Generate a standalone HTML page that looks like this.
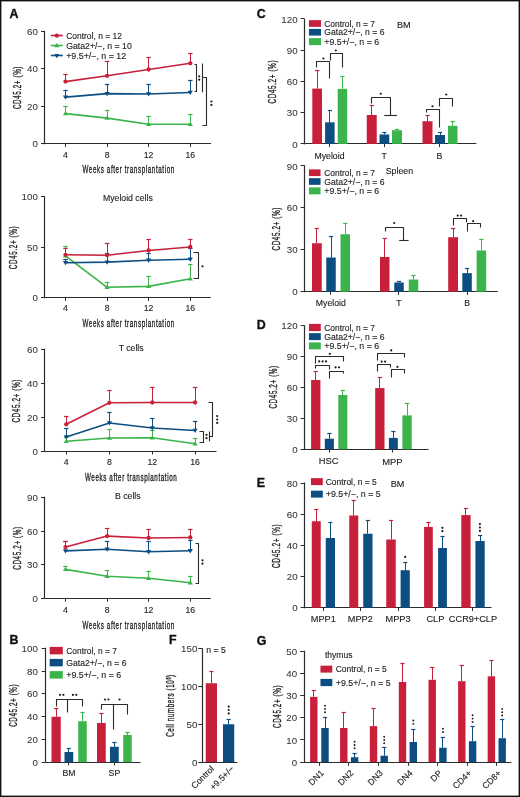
<!DOCTYPE html>
<html><head><meta charset="utf-8"><style>
html,body{margin:0;padding:0;background:#fff;}
body{width:520px;height:797px;overflow:hidden;}
svg{display:block;font-family:"Liberation Sans", sans-serif;will-change:transform;opacity:0.999;}
text{stroke:#222;stroke-width:0.12px;}
text.t{stroke-width:0.35px;letter-spacing:1.1px;}
text.n{stroke-width:0.05px;fill:#333;stroke:#333;}
</style></head><body>
<svg width="520" height="797" viewBox="0 0 520 797">
<rect width="520" height="797" fill="#fff"/>
<rect x="0.7" y="0.7" width="518.6" height="795.6" fill="none" stroke="#111" stroke-width="1.4"/>
<text x="9.40" y="17.90" font-size="12.4" font-weight="bold" fill="#111" style="stroke:#111;stroke-width:0.35px">A</text>
<line x1="44.5" y1="30.75" x2="44.5" y2="144.3" stroke="#2b2b2b" stroke-width="1.2"/>
<line x1="41.0" y1="143.5" x2="44.8" y2="143.5" stroke="#2b2b2b" stroke-width="1.0"/>
<text x="38.15" y="147.49" font-size="9.7" text-anchor="end" fill="#222" font-weight="normal" class="n" letter-spacing="0.15">0</text>
<line x1="41.0" y1="106.5" x2="44.8" y2="106.5" stroke="#2b2b2b" stroke-width="1.0"/>
<text x="38.15" y="109.99" font-size="9.7" text-anchor="end" fill="#222" font-weight="normal" class="n" letter-spacing="0.15">20</text>
<line x1="41.0" y1="68.5" x2="44.8" y2="68.5" stroke="#2b2b2b" stroke-width="1.0"/>
<text x="38.15" y="72.49" font-size="9.7" text-anchor="end" fill="#222" font-weight="normal" class="n" letter-spacing="0.15">40</text>
<line x1="41.0" y1="31.5" x2="44.8" y2="31.5" stroke="#2b2b2b" stroke-width="1.0"/>
<text x="38.15" y="34.99" font-size="9.7" text-anchor="end" fill="#222" font-weight="normal" class="n" letter-spacing="0.15">60</text>
<line x1="44.8" y1="143.5" x2="211" y2="143.5" stroke="#2b2b2b" stroke-width="1.2"/>
<line x1="65.5" y1="143.8" x2="65.5" y2="147.0" stroke="#2b2b2b" stroke-width="1.0"/>
<line x1="107.5" y1="143.8" x2="107.5" y2="147.0" stroke="#2b2b2b" stroke-width="1.0"/>
<line x1="148.5" y1="143.8" x2="148.5" y2="147.0" stroke="#2b2b2b" stroke-width="1.0"/>
<line x1="190.5" y1="143.8" x2="190.5" y2="147.0" stroke="#2b2b2b" stroke-width="1.0"/>
<text x="65.5" y="157.73" font-size="8.7" text-anchor="middle" fill="#222" font-weight="normal">4</text>
<text x="107.1" y="157.73" font-size="8.7" text-anchor="middle" fill="#222" font-weight="normal">8</text>
<text x="148.6" y="157.73" font-size="8.7" text-anchor="middle" fill="#222" font-weight="normal">12</text>
<text x="190.3" y="157.73" font-size="8.7" text-anchor="middle" fill="#222" font-weight="normal">16</text>
<text x="128.65" y="173.46" font-size="11" text-anchor="middle" fill="#222" font-weight="normal" class="t" textLength="92.4" lengthAdjust="spacingAndGlyphs">Weeks after transplantation</text>
<text class="t" transform="translate(16.85,87.5) rotate(-90)" x="0" y="4.18" font-size="11.6" text-anchor="middle" fill="#222" textLength="43.1" lengthAdjust="spacingAndGlyphs">CD45.2+ (%)</text>
<polyline points="65.5,113.6 107.1,118.1 148.6,124.2 190.3,124.2" fill="none" stroke="#3AB44B" stroke-width="1.6" stroke-linejoin="round"/>
<line x1="65.5" y1="106.6" x2="65.5" y2="113.6" stroke="#3AB44B" stroke-width="1.0"/>
<line x1="63.3" y1="106.5" x2="67.7" y2="106.5" stroke="#3AB44B" stroke-width="1.2"/>
<line x1="107.5" y1="110.4" x2="107.5" y2="118.1" stroke="#3AB44B" stroke-width="1.0"/>
<line x1="104.89999999999999" y1="110.5" x2="109.3" y2="110.5" stroke="#3AB44B" stroke-width="1.2"/>
<line x1="148.5" y1="116.5" x2="148.5" y2="124.2" stroke="#3AB44B" stroke-width="1.0"/>
<line x1="146.4" y1="116.5" x2="150.79999999999998" y2="116.5" stroke="#3AB44B" stroke-width="1.2"/>
<line x1="190.5" y1="114.5" x2="190.5" y2="124.2" stroke="#3AB44B" stroke-width="1.0"/>
<line x1="188.10000000000002" y1="114.5" x2="192.5" y2="114.5" stroke="#3AB44B" stroke-width="1.2"/>
<path d="M62.9,115.3 L68.1,115.3 L65.5,111.0 Z" fill="#3AB44B"/>
<path d="M104.5,119.8 L109.69999999999999,119.8 L107.1,115.5 Z" fill="#3AB44B"/>
<path d="M146.0,125.9 L151.2,125.9 L148.6,121.60000000000001 Z" fill="#3AB44B"/>
<path d="M187.70000000000002,125.9 L192.9,125.9 L190.3,121.60000000000001 Z" fill="#3AB44B"/>
<polyline points="65.5,97.1 107.1,93.6 148.6,94.0 190.3,92.5" fill="none" stroke="#0D4E82" stroke-width="1.6" stroke-linejoin="round"/>
<line x1="65.5" y1="90.7" x2="65.5" y2="97.1" stroke="#0D4E82" stroke-width="1.0"/>
<line x1="63.3" y1="90.5" x2="67.7" y2="90.5" stroke="#0D4E82" stroke-width="1.2"/>
<line x1="107.5" y1="84.1" x2="107.5" y2="93.6" stroke="#0D4E82" stroke-width="1.0"/>
<line x1="104.89999999999999" y1="84.5" x2="109.3" y2="84.5" stroke="#0D4E82" stroke-width="1.2"/>
<line x1="148.5" y1="84.0" x2="148.5" y2="94.0" stroke="#0D4E82" stroke-width="1.0"/>
<line x1="146.4" y1="84.5" x2="150.79999999999998" y2="84.5" stroke="#0D4E82" stroke-width="1.2"/>
<line x1="190.5" y1="80.8" x2="190.5" y2="92.5" stroke="#0D4E82" stroke-width="1.0"/>
<line x1="188.10000000000002" y1="80.5" x2="192.5" y2="80.5" stroke="#0D4E82" stroke-width="1.2"/>
<path d="M62.9,95.39999999999999 L68.1,95.39999999999999 L65.5,99.69999999999999 Z" fill="#0D4E82"/>
<path d="M104.5,91.89999999999999 L109.69999999999999,91.89999999999999 L107.1,96.19999999999999 Z" fill="#0D4E82"/>
<path d="M146.0,92.3 L151.2,92.3 L148.6,96.6 Z" fill="#0D4E82"/>
<path d="M187.70000000000002,90.8 L192.9,90.8 L190.3,95.1 Z" fill="#0D4E82"/>
<polyline points="65.5,81.6 107.1,75.8 148.6,69.5 190.3,63.3" fill="none" stroke="#C8203A" stroke-width="1.6" stroke-linejoin="round"/>
<line x1="65.5" y1="74.7" x2="65.5" y2="81.6" stroke="#C8203A" stroke-width="1.0"/>
<line x1="63.3" y1="74.5" x2="67.7" y2="74.5" stroke="#C8203A" stroke-width="1.2"/>
<line x1="107.5" y1="61.8" x2="107.5" y2="75.8" stroke="#C8203A" stroke-width="1.0"/>
<line x1="104.89999999999999" y1="61.5" x2="109.3" y2="61.5" stroke="#C8203A" stroke-width="1.2"/>
<line x1="148.5" y1="57.5" x2="148.5" y2="69.5" stroke="#C8203A" stroke-width="1.0"/>
<line x1="146.4" y1="57.5" x2="150.79999999999998" y2="57.5" stroke="#C8203A" stroke-width="1.2"/>
<line x1="190.5" y1="53.8" x2="190.5" y2="63.3" stroke="#C8203A" stroke-width="1.0"/>
<line x1="188.10000000000002" y1="53.5" x2="192.5" y2="53.5" stroke="#C8203A" stroke-width="1.2"/>
<circle cx="65.5" cy="81.6" r="2.15" fill="#C8203A"/>
<circle cx="107.1" cy="75.8" r="2.15" fill="#C8203A"/>
<circle cx="148.6" cy="69.5" r="2.15" fill="#C8203A"/>
<circle cx="190.3" cy="63.3" r="2.15" fill="#C8203A"/>
<line x1="50.8" y1="35.5" x2="62.8" y2="35.5" stroke="#C8203A" stroke-width="1.6"/>
<circle cx="56.8" cy="35.7" r="2.15" fill="#C8203A"/>
<text x="66.2" y="38.76" font-size="8.5" text-anchor="start" fill="#222" font-weight="normal" textLength="55.7" lengthAdjust="spacingAndGlyphs">Control, n = 12</text>
<line x1="50.8" y1="45.5" x2="62.8" y2="45.5" stroke="#3AB44B" stroke-width="1.6"/>
<path d="M54.199999999999996,47.2 L59.4,47.2 L56.8,42.9 Z" fill="#3AB44B"/>
<text x="66.2" y="48.56" font-size="8.5" text-anchor="start" fill="#222" font-weight="normal" textLength="65.6" lengthAdjust="spacingAndGlyphs">Gata2+/−, n = 10</text>
<line x1="50.8" y1="55.5" x2="62.8" y2="55.5" stroke="#0D4E82" stroke-width="1.6"/>
<path d="M54.199999999999996,53.9 L59.4,53.9 L56.8,58.2 Z" fill="#0D4E82"/>
<text x="66.2" y="58.66" font-size="8.5" text-anchor="start" fill="#222" font-weight="normal" textLength="60.0" lengthAdjust="spacingAndGlyphs">+9.5+/−, n = 12</text>
<path d="M194.5,64.5 H196.5 V91.5 H194.5" stroke="#2b2b2b" stroke-width="1.1" fill="none" stroke-linejoin="round"/>
<circle cx="199.2" cy="76.30" r="1.1" fill="#1a1a1a"/>
<circle cx="199.2" cy="79.70" r="1.1" fill="#1a1a1a"/>
<line x1="202.5" y1="63.5" x2="202.5" y2="92.3" stroke="#2b2b2b" stroke-width="1.1"/>
<path d="M202.5,77.5 H206.5 V125.5 H202.5" stroke="#2b2b2b" stroke-width="1.1" fill="none" stroke-linejoin="round"/>
<circle cx="211.4" cy="101.50" r="1.1" fill="#1a1a1a"/>
<circle cx="211.4" cy="104.90" r="1.1" fill="#1a1a1a"/>
<line x1="44.5" y1="196.25" x2="44.5" y2="298.25" stroke="#2b2b2b" stroke-width="1.2"/>
<line x1="41.0" y1="297.5" x2="44.8" y2="297.5" stroke="#2b2b2b" stroke-width="1.0"/>
<text x="38.15" y="301.44" font-size="9.7" text-anchor="end" fill="#222" font-weight="normal" class="n" letter-spacing="0.15">0</text>
<line x1="41.0" y1="247.5" x2="44.8" y2="247.5" stroke="#2b2b2b" stroke-width="1.0"/>
<text x="38.15" y="250.94" font-size="9.7" text-anchor="end" fill="#222" font-weight="normal" class="n" letter-spacing="0.15">50</text>
<line x1="41.0" y1="196.5" x2="44.8" y2="196.5" stroke="#2b2b2b" stroke-width="1.0"/>
<text x="38.15" y="200.44" font-size="9.7" text-anchor="end" fill="#222" font-weight="normal" class="n" letter-spacing="0.15">100</text>
<line x1="44.8" y1="297.5" x2="210.8" y2="297.5" stroke="#2b2b2b" stroke-width="1.2"/>
<line x1="65.5" y1="297.75" x2="65.5" y2="300.95" stroke="#2b2b2b" stroke-width="1.0"/>
<line x1="107.5" y1="297.75" x2="107.5" y2="300.95" stroke="#2b2b2b" stroke-width="1.0"/>
<line x1="148.5" y1="297.75" x2="148.5" y2="300.95" stroke="#2b2b2b" stroke-width="1.0"/>
<line x1="190.5" y1="297.75" x2="190.5" y2="300.95" stroke="#2b2b2b" stroke-width="1.0"/>
<text x="65.5" y="311.33" font-size="8.7" text-anchor="middle" fill="#222" font-weight="normal">4</text>
<text x="107.1" y="311.33" font-size="8.7" text-anchor="middle" fill="#222" font-weight="normal">8</text>
<text x="148.6" y="311.33" font-size="8.7" text-anchor="middle" fill="#222" font-weight="normal">12</text>
<text x="190.3" y="311.33" font-size="8.7" text-anchor="middle" fill="#222" font-weight="normal">16</text>
<text x="128.65" y="326.66" font-size="11" text-anchor="middle" fill="#222" font-weight="normal" class="t" textLength="92.4" lengthAdjust="spacingAndGlyphs">Weeks after transplantation</text>
<text class="t" transform="translate(13.20,247.5) rotate(-90)" x="0" y="4.18" font-size="11.6" text-anchor="middle" fill="#222" textLength="43.4" lengthAdjust="spacingAndGlyphs">CD45.2+ (%)</text>
<text x="103" y="200.63" font-size="8.7" text-anchor="start" fill="#222" font-weight="normal">Myeloid cells</text>
<polyline points="65.5,255.8 107.1,287.3 148.6,286.4 190.3,278.8" fill="none" stroke="#3AB44B" stroke-width="1.6" stroke-linejoin="round"/>
<line x1="65.5" y1="246.3" x2="65.5" y2="255.8" stroke="#3AB44B" stroke-width="1.0"/>
<line x1="63.3" y1="246.5" x2="67.7" y2="246.5" stroke="#3AB44B" stroke-width="1.2"/>
<line x1="107.5" y1="282.3" x2="107.5" y2="287.3" stroke="#3AB44B" stroke-width="1.0"/>
<line x1="104.89999999999999" y1="282.5" x2="109.3" y2="282.5" stroke="#3AB44B" stroke-width="1.2"/>
<line x1="148.5" y1="276.5" x2="148.5" y2="286.4" stroke="#3AB44B" stroke-width="1.0"/>
<line x1="146.4" y1="276.5" x2="150.79999999999998" y2="276.5" stroke="#3AB44B" stroke-width="1.2"/>
<line x1="190.5" y1="264.5" x2="190.5" y2="278.8" stroke="#3AB44B" stroke-width="1.0"/>
<line x1="188.10000000000002" y1="264.5" x2="192.5" y2="264.5" stroke="#3AB44B" stroke-width="1.2"/>
<path d="M62.9,257.5 L68.1,257.5 L65.5,253.20000000000002 Z" fill="#3AB44B"/>
<path d="M104.5,289.0 L109.69999999999999,289.0 L107.1,284.7 Z" fill="#3AB44B"/>
<path d="M146.0,288.09999999999997 L151.2,288.09999999999997 L148.6,283.79999999999995 Z" fill="#3AB44B"/>
<path d="M187.70000000000002,280.5 L192.9,280.5 L190.3,276.2 Z" fill="#3AB44B"/>
<polyline points="65.5,262.7 107.1,262.1 148.6,260.3 190.3,259.3" fill="none" stroke="#0D4E82" stroke-width="1.6" stroke-linejoin="round"/>
<line x1="65.5" y1="259.2" x2="65.5" y2="262.7" stroke="#0D4E82" stroke-width="1.0"/>
<line x1="63.3" y1="259.5" x2="67.7" y2="259.5" stroke="#0D4E82" stroke-width="1.2"/>
<line x1="107.5" y1="253.5" x2="107.5" y2="262.1" stroke="#0D4E82" stroke-width="1.0"/>
<line x1="104.89999999999999" y1="253.5" x2="109.3" y2="253.5" stroke="#0D4E82" stroke-width="1.2"/>
<line x1="148.5" y1="253.0" x2="148.5" y2="260.3" stroke="#0D4E82" stroke-width="1.0"/>
<line x1="146.4" y1="253.5" x2="150.79999999999998" y2="253.5" stroke="#0D4E82" stroke-width="1.2"/>
<line x1="190.5" y1="248.8" x2="190.5" y2="259.3" stroke="#0D4E82" stroke-width="1.0"/>
<line x1="188.10000000000002" y1="248.5" x2="192.5" y2="248.5" stroke="#0D4E82" stroke-width="1.2"/>
<path d="M62.9,261.0 L68.1,261.0 L65.5,265.3 Z" fill="#0D4E82"/>
<path d="M104.5,260.40000000000003 L109.69999999999999,260.40000000000003 L107.1,264.70000000000005 Z" fill="#0D4E82"/>
<path d="M146.0,258.6 L151.2,258.6 L148.6,262.90000000000003 Z" fill="#0D4E82"/>
<path d="M187.70000000000002,257.6 L192.9,257.6 L190.3,261.90000000000003 Z" fill="#0D4E82"/>
<polyline points="65.5,254.8 107.1,255.2 148.6,250.5 190.3,247.0" fill="none" stroke="#C8203A" stroke-width="1.6" stroke-linejoin="round"/>
<line x1="65.5" y1="248.3" x2="65.5" y2="254.8" stroke="#C8203A" stroke-width="1.0"/>
<line x1="63.3" y1="248.5" x2="67.7" y2="248.5" stroke="#C8203A" stroke-width="1.2"/>
<line x1="107.5" y1="243.3" x2="107.5" y2="255.2" stroke="#C8203A" stroke-width="1.0"/>
<line x1="104.89999999999999" y1="243.5" x2="109.3" y2="243.5" stroke="#C8203A" stroke-width="1.2"/>
<line x1="148.5" y1="239.5" x2="148.5" y2="250.5" stroke="#C8203A" stroke-width="1.0"/>
<line x1="146.4" y1="239.5" x2="150.79999999999998" y2="239.5" stroke="#C8203A" stroke-width="1.2"/>
<line x1="190.5" y1="239.5" x2="190.5" y2="247.0" stroke="#C8203A" stroke-width="1.0"/>
<line x1="188.10000000000002" y1="239.5" x2="192.5" y2="239.5" stroke="#C8203A" stroke-width="1.2"/>
<circle cx="65.5" cy="254.8" r="2.15" fill="#C8203A"/>
<circle cx="107.1" cy="255.2" r="2.15" fill="#C8203A"/>
<circle cx="148.6" cy="250.5" r="2.15" fill="#C8203A"/>
<circle cx="190.3" cy="247.0" r="2.15" fill="#C8203A"/>
<path d="M193.5,252.5 H198.5 V278.5 H193.5" stroke="#2b2b2b" stroke-width="1.1" fill="none" stroke-linejoin="round"/>
<circle cx="202.5" cy="266.30" r="1.1" fill="#1a1a1a"/>
<line x1="44.5" y1="348.75" x2="44.5" y2="451.75" stroke="#2b2b2b" stroke-width="1.2"/>
<line x1="41.0" y1="451.5" x2="44.8" y2="451.5" stroke="#2b2b2b" stroke-width="1.0"/>
<text x="38.15" y="454.94" font-size="9.7" text-anchor="end" fill="#222" font-weight="normal" class="n" letter-spacing="0.15">0</text>
<line x1="41.0" y1="417.5" x2="44.8" y2="417.5" stroke="#2b2b2b" stroke-width="1.0"/>
<text x="38.15" y="420.94" font-size="9.7" text-anchor="end" fill="#222" font-weight="normal" class="n" letter-spacing="0.15">20</text>
<line x1="41.0" y1="383.5" x2="44.8" y2="383.5" stroke="#2b2b2b" stroke-width="1.0"/>
<text x="38.15" y="386.94" font-size="9.7" text-anchor="end" fill="#222" font-weight="normal" class="n" letter-spacing="0.15">40</text>
<line x1="41.0" y1="349.5" x2="44.8" y2="349.5" stroke="#2b2b2b" stroke-width="1.0"/>
<text x="38.15" y="352.94" font-size="9.7" text-anchor="end" fill="#222" font-weight="normal" class="n" letter-spacing="0.15">60</text>
<line x1="44.8" y1="451.5" x2="216.5" y2="451.5" stroke="#2b2b2b" stroke-width="1.2"/>
<line x1="66.5" y1="451.25" x2="66.5" y2="454.45" stroke="#2b2b2b" stroke-width="1.0"/>
<line x1="109.5" y1="451.25" x2="109.5" y2="454.45" stroke="#2b2b2b" stroke-width="1.0"/>
<line x1="152.5" y1="451.25" x2="152.5" y2="454.45" stroke="#2b2b2b" stroke-width="1.0"/>
<line x1="195.5" y1="451.25" x2="195.5" y2="454.45" stroke="#2b2b2b" stroke-width="1.0"/>
<text x="66.25" y="465.33" font-size="8.7" text-anchor="middle" fill="#222" font-weight="normal">4</text>
<text x="109.4" y="465.33" font-size="8.7" text-anchor="middle" fill="#222" font-weight="normal">8</text>
<text x="152.3" y="465.33" font-size="8.7" text-anchor="middle" fill="#222" font-weight="normal">12</text>
<text x="195.1" y="465.33" font-size="8.7" text-anchor="middle" fill="#222" font-weight="normal">16</text>
<text x="131.15" y="480.66" font-size="11" text-anchor="middle" fill="#222" font-weight="normal" class="t" textLength="92.4" lengthAdjust="spacingAndGlyphs">Weeks after transplantation</text>
<text class="t" transform="translate(15.80,400.8) rotate(-90)" x="0" y="4.18" font-size="11.6" text-anchor="middle" fill="#222" textLength="43.6" lengthAdjust="spacingAndGlyphs">CD45.2+ (%)</text>
<text x="118.7" y="351.13" font-size="8.7" text-anchor="start" fill="#222" font-weight="normal">T cells</text>
<polyline points="66.25,441.3 109.4,438.0 152.3,437.8 195.1,443.8" fill="none" stroke="#3AB44B" stroke-width="1.6" stroke-linejoin="round"/>
<line x1="66.5" y1="437.0" x2="66.5" y2="441.3" stroke="#3AB44B" stroke-width="1.0"/>
<line x1="64.05" y1="437.5" x2="68.45" y2="437.5" stroke="#3AB44B" stroke-width="1.2"/>
<line x1="109.5" y1="429.5" x2="109.5" y2="438.0" stroke="#3AB44B" stroke-width="1.0"/>
<line x1="107.2" y1="429.5" x2="111.60000000000001" y2="429.5" stroke="#3AB44B" stroke-width="1.2"/>
<line x1="152.5" y1="430.0" x2="152.5" y2="437.8" stroke="#3AB44B" stroke-width="1.0"/>
<line x1="150.10000000000002" y1="430.5" x2="154.5" y2="430.5" stroke="#3AB44B" stroke-width="1.2"/>
<line x1="195.5" y1="438.5" x2="195.5" y2="443.8" stroke="#3AB44B" stroke-width="1.0"/>
<line x1="192.9" y1="438.5" x2="197.29999999999998" y2="438.5" stroke="#3AB44B" stroke-width="1.2"/>
<path d="M63.65,443.0 L68.85,443.0 L66.25,438.7 Z" fill="#3AB44B"/>
<path d="M106.80000000000001,439.7 L112.0,439.7 L109.4,435.4 Z" fill="#3AB44B"/>
<path d="M149.70000000000002,439.5 L154.9,439.5 L152.3,435.2 Z" fill="#3AB44B"/>
<path d="M192.5,445.5 L197.7,445.5 L195.1,441.2 Z" fill="#3AB44B"/>
<polyline points="66.25,437.0 109.4,423.0 152.3,428.0 195.1,430.5" fill="none" stroke="#0D4E82" stroke-width="1.6" stroke-linejoin="round"/>
<line x1="66.5" y1="428.8" x2="66.5" y2="437.0" stroke="#0D4E82" stroke-width="1.0"/>
<line x1="64.05" y1="428.5" x2="68.45" y2="428.5" stroke="#0D4E82" stroke-width="1.2"/>
<line x1="109.5" y1="412.8" x2="109.5" y2="423.0" stroke="#0D4E82" stroke-width="1.0"/>
<line x1="107.2" y1="412.5" x2="111.60000000000001" y2="412.5" stroke="#0D4E82" stroke-width="1.2"/>
<line x1="152.5" y1="418.5" x2="152.5" y2="428.0" stroke="#0D4E82" stroke-width="1.0"/>
<line x1="150.10000000000002" y1="418.5" x2="154.5" y2="418.5" stroke="#0D4E82" stroke-width="1.2"/>
<line x1="195.5" y1="421.5" x2="195.5" y2="430.5" stroke="#0D4E82" stroke-width="1.0"/>
<line x1="192.9" y1="421.5" x2="197.29999999999998" y2="421.5" stroke="#0D4E82" stroke-width="1.2"/>
<path d="M63.65,435.3 L68.85,435.3 L66.25,439.6 Z" fill="#0D4E82"/>
<path d="M106.80000000000001,421.3 L112.0,421.3 L109.4,425.6 Z" fill="#0D4E82"/>
<path d="M149.70000000000002,426.3 L154.9,426.3 L152.3,430.6 Z" fill="#0D4E82"/>
<path d="M192.5,428.8 L197.7,428.8 L195.1,433.1 Z" fill="#0D4E82"/>
<polyline points="66.25,424.3 109.4,402.8 152.3,402.5 195.1,402.5" fill="none" stroke="#C8203A" stroke-width="1.6" stroke-linejoin="round"/>
<line x1="66.5" y1="416.9" x2="66.5" y2="424.3" stroke="#C8203A" stroke-width="1.0"/>
<line x1="64.05" y1="416.5" x2="68.45" y2="416.5" stroke="#C8203A" stroke-width="1.2"/>
<line x1="109.5" y1="390.8" x2="109.5" y2="402.8" stroke="#C8203A" stroke-width="1.0"/>
<line x1="107.2" y1="390.5" x2="111.60000000000001" y2="390.5" stroke="#C8203A" stroke-width="1.2"/>
<line x1="152.5" y1="387.8" x2="152.5" y2="402.5" stroke="#C8203A" stroke-width="1.0"/>
<line x1="150.10000000000002" y1="387.5" x2="154.5" y2="387.5" stroke="#C8203A" stroke-width="1.2"/>
<line x1="195.5" y1="387.0" x2="195.5" y2="402.5" stroke="#C8203A" stroke-width="1.0"/>
<line x1="192.9" y1="387.5" x2="197.29999999999998" y2="387.5" stroke="#C8203A" stroke-width="1.2"/>
<circle cx="66.25" cy="424.3" r="2.15" fill="#C8203A"/>
<circle cx="109.4" cy="402.8" r="2.15" fill="#C8203A"/>
<circle cx="152.3" cy="402.5" r="2.15" fill="#C8203A"/>
<circle cx="195.1" cy="402.5" r="2.15" fill="#C8203A"/>
<path d="M208.5,402.5 H212.5 V436.5 H209.5" stroke="#2b2b2b" stroke-width="1.1" fill="none" stroke-linejoin="round"/>
<path d="M199.5,431.5 H203.5 V442.5 H199.5" stroke="#2b2b2b" stroke-width="1.1" fill="none" stroke-linejoin="round"/>
<line x1="209.5" y1="431.5" x2="209.5" y2="441.2" stroke="#2b2b2b" stroke-width="1.1"/>
<circle cx="206.5" cy="434.80" r="1.1" fill="#1a1a1a"/>
<circle cx="206.5" cy="438.20" r="1.1" fill="#1a1a1a"/>
<circle cx="217.2" cy="416.10" r="1.1" fill="#1a1a1a"/>
<circle cx="217.2" cy="419.50" r="1.1" fill="#1a1a1a"/>
<circle cx="217.2" cy="422.90" r="1.1" fill="#1a1a1a"/>
<line x1="44.5" y1="496.75" x2="44.5" y2="599.0" stroke="#2b2b2b" stroke-width="1.2"/>
<line x1="41.0" y1="598.5" x2="44.8" y2="598.5" stroke="#2b2b2b" stroke-width="1.0"/>
<text x="38.15" y="602.19" font-size="9.7" text-anchor="end" fill="#222" font-weight="normal" class="n" letter-spacing="0.15">0</text>
<line x1="41.0" y1="564.5" x2="44.8" y2="564.5" stroke="#2b2b2b" stroke-width="1.0"/>
<text x="38.15" y="568.44" font-size="9.7" text-anchor="end" fill="#222" font-weight="normal" class="n" letter-spacing="0.15">30</text>
<line x1="41.0" y1="531.5" x2="44.8" y2="531.5" stroke="#2b2b2b" stroke-width="1.0"/>
<text x="38.15" y="534.69" font-size="9.7" text-anchor="end" fill="#222" font-weight="normal" class="n" letter-spacing="0.15">60</text>
<line x1="41.0" y1="497.5" x2="44.8" y2="497.5" stroke="#2b2b2b" stroke-width="1.0"/>
<text x="38.15" y="500.94" font-size="9.7" text-anchor="end" fill="#222" font-weight="normal" class="n" letter-spacing="0.15">90</text>
<line x1="44.8" y1="598.5" x2="210.8" y2="598.5" stroke="#2b2b2b" stroke-width="1.2"/>
<line x1="65.5" y1="598.5" x2="65.5" y2="601.7" stroke="#2b2b2b" stroke-width="1.0"/>
<line x1="107.5" y1="598.5" x2="107.5" y2="601.7" stroke="#2b2b2b" stroke-width="1.0"/>
<line x1="148.5" y1="598.5" x2="148.5" y2="601.7" stroke="#2b2b2b" stroke-width="1.0"/>
<line x1="190.5" y1="598.5" x2="190.5" y2="601.7" stroke="#2b2b2b" stroke-width="1.0"/>
<text x="65.5" y="612.73" font-size="8.7" text-anchor="middle" fill="#222" font-weight="normal">4</text>
<text x="107.1" y="612.73" font-size="8.7" text-anchor="middle" fill="#222" font-weight="normal">8</text>
<text x="148.6" y="612.73" font-size="8.7" text-anchor="middle" fill="#222" font-weight="normal">12</text>
<text x="190.3" y="612.73" font-size="8.7" text-anchor="middle" fill="#222" font-weight="normal">16</text>
<text x="128.65" y="629.16" font-size="11" text-anchor="middle" fill="#222" font-weight="normal" class="t" textLength="92.4" lengthAdjust="spacingAndGlyphs">Weeks after transplantation</text>
<text class="t" transform="translate(16.90,548) rotate(-90)" x="0" y="4.18" font-size="11.6" text-anchor="middle" fill="#222" textLength="43.6" lengthAdjust="spacingAndGlyphs">CD45.2+ (%)</text>
<text x="115" y="498.93" font-size="8.7" text-anchor="start" fill="#222" font-weight="normal">B cells</text>
<polyline points="65.5,569.4 107.1,576.3 148.6,578.3 190.3,582.7" fill="none" stroke="#3AB44B" stroke-width="1.6" stroke-linejoin="round"/>
<line x1="65.5" y1="566.5" x2="65.5" y2="569.4" stroke="#3AB44B" stroke-width="1.0"/>
<line x1="63.3" y1="566.5" x2="67.7" y2="566.5" stroke="#3AB44B" stroke-width="1.2"/>
<line x1="107.5" y1="570.2" x2="107.5" y2="576.3" stroke="#3AB44B" stroke-width="1.0"/>
<line x1="104.89999999999999" y1="570.5" x2="109.3" y2="570.5" stroke="#3AB44B" stroke-width="1.2"/>
<line x1="148.5" y1="571.9" x2="148.5" y2="578.3" stroke="#3AB44B" stroke-width="1.0"/>
<line x1="146.4" y1="571.5" x2="150.79999999999998" y2="571.5" stroke="#3AB44B" stroke-width="1.2"/>
<line x1="190.5" y1="576.0" x2="190.5" y2="582.7" stroke="#3AB44B" stroke-width="1.0"/>
<line x1="188.10000000000002" y1="576.5" x2="192.5" y2="576.5" stroke="#3AB44B" stroke-width="1.2"/>
<path d="M62.9,571.1 L68.1,571.1 L65.5,566.8 Z" fill="#3AB44B"/>
<path d="M104.5,578.0 L109.69999999999999,578.0 L107.1,573.6999999999999 Z" fill="#3AB44B"/>
<path d="M146.0,580.0 L151.2,580.0 L148.6,575.6999999999999 Z" fill="#3AB44B"/>
<path d="M187.70000000000002,584.4000000000001 L192.9,584.4000000000001 L190.3,580.1 Z" fill="#3AB44B"/>
<polyline points="65.5,550.9 107.1,549.2 148.6,551.8 190.3,550.8" fill="none" stroke="#0D4E82" stroke-width="1.6" stroke-linejoin="round"/>
<line x1="65.5" y1="541.9" x2="65.5" y2="550.9" stroke="#0D4E82" stroke-width="1.0"/>
<line x1="63.3" y1="541.5" x2="67.7" y2="541.5" stroke="#0D4E82" stroke-width="1.2"/>
<line x1="107.5" y1="541.6" x2="107.5" y2="549.2" stroke="#0D4E82" stroke-width="1.0"/>
<line x1="104.89999999999999" y1="541.5" x2="109.3" y2="541.5" stroke="#0D4E82" stroke-width="1.2"/>
<line x1="148.5" y1="541.3" x2="148.5" y2="551.8" stroke="#0D4E82" stroke-width="1.0"/>
<line x1="146.4" y1="541.5" x2="150.79999999999998" y2="541.5" stroke="#0D4E82" stroke-width="1.2"/>
<line x1="190.5" y1="540.0" x2="190.5" y2="550.8" stroke="#0D4E82" stroke-width="1.0"/>
<line x1="188.10000000000002" y1="540.5" x2="192.5" y2="540.5" stroke="#0D4E82" stroke-width="1.2"/>
<path d="M62.9,549.1999999999999 L68.1,549.1999999999999 L65.5,553.5 Z" fill="#0D4E82"/>
<path d="M104.5,547.5 L109.69999999999999,547.5 L107.1,551.8000000000001 Z" fill="#0D4E82"/>
<path d="M146.0,550.0999999999999 L151.2,550.0999999999999 L148.6,554.4 Z" fill="#0D4E82"/>
<path d="M187.70000000000002,549.0999999999999 L192.9,549.0999999999999 L190.3,553.4 Z" fill="#0D4E82"/>
<polyline points="65.5,547.1 107.1,536.1 148.6,538.0 190.3,537.5" fill="none" stroke="#C8203A" stroke-width="1.6" stroke-linejoin="round"/>
<line x1="65.5" y1="541.7" x2="65.5" y2="547.1" stroke="#C8203A" stroke-width="1.0"/>
<line x1="63.3" y1="541.5" x2="67.7" y2="541.5" stroke="#C8203A" stroke-width="1.2"/>
<line x1="107.5" y1="528.7" x2="107.5" y2="536.1" stroke="#C8203A" stroke-width="1.0"/>
<line x1="104.89999999999999" y1="528.5" x2="109.3" y2="528.5" stroke="#C8203A" stroke-width="1.2"/>
<line x1="148.5" y1="529.5" x2="148.5" y2="538.0" stroke="#C8203A" stroke-width="1.0"/>
<line x1="146.4" y1="529.5" x2="150.79999999999998" y2="529.5" stroke="#C8203A" stroke-width="1.2"/>
<line x1="190.5" y1="529.3" x2="190.5" y2="537.5" stroke="#C8203A" stroke-width="1.0"/>
<line x1="188.10000000000002" y1="529.5" x2="192.5" y2="529.5" stroke="#C8203A" stroke-width="1.2"/>
<circle cx="65.5" cy="547.1" r="2.15" fill="#C8203A"/>
<circle cx="107.1" cy="536.1" r="2.15" fill="#C8203A"/>
<circle cx="148.6" cy="538.0" r="2.15" fill="#C8203A"/>
<circle cx="190.3" cy="537.5" r="2.15" fill="#C8203A"/>
<path d="M195.5,543.5 H198.5 V583.5 H195.5" stroke="#2b2b2b" stroke-width="1.1" fill="none" stroke-linejoin="round"/>
<circle cx="202.5" cy="560.30" r="1.1" fill="#1a1a1a"/>
<circle cx="202.5" cy="563.70" r="1.1" fill="#1a1a1a"/>
<text x="9.60" y="643.90" font-size="12.4" font-weight="bold" fill="#111" style="stroke:#111;stroke-width:0.35px">B</text>
<line x1="45.5" y1="647.75" x2="45.5" y2="762.7" stroke="#2b2b2b" stroke-width="1.2"/>
<line x1="41.7" y1="762.5" x2="45.5" y2="762.5" stroke="#2b2b2b" stroke-width="1.0"/>
<text x="38.15" y="765.89" font-size="9.7" text-anchor="end" fill="#222" font-weight="normal" class="n" letter-spacing="0.15">0</text>
<line x1="41.7" y1="739.5" x2="45.5" y2="739.5" stroke="#2b2b2b" stroke-width="1.0"/>
<text x="38.15" y="743.09" font-size="9.7" text-anchor="end" fill="#222" font-weight="normal" class="n" letter-spacing="0.15">20</text>
<line x1="41.7" y1="716.5" x2="45.5" y2="716.5" stroke="#2b2b2b" stroke-width="1.0"/>
<text x="38.15" y="720.29" font-size="9.7" text-anchor="end" fill="#222" font-weight="normal" class="n" letter-spacing="0.15">40</text>
<line x1="41.7" y1="693.5" x2="45.5" y2="693.5" stroke="#2b2b2b" stroke-width="1.0"/>
<text x="38.15" y="697.49" font-size="9.7" text-anchor="end" fill="#222" font-weight="normal" class="n" letter-spacing="0.15">60</text>
<line x1="41.7" y1="671.5" x2="45.5" y2="671.5" stroke="#2b2b2b" stroke-width="1.0"/>
<text x="38.15" y="674.69" font-size="9.7" text-anchor="end" fill="#222" font-weight="normal" class="n" letter-spacing="0.15">80</text>
<line x1="41.7" y1="648.5" x2="45.5" y2="648.5" stroke="#2b2b2b" stroke-width="1.0"/>
<text x="38.15" y="651.89" font-size="9.7" text-anchor="end" fill="#222" font-weight="normal" class="n" letter-spacing="0.15">100</text>
<line x1="45.5" y1="762.5" x2="140.5" y2="762.5" stroke="#2b2b2b" stroke-width="1.2"/>
<line x1="68.5" y1="762.2" x2="68.5" y2="765.4000000000001" stroke="#2b2b2b" stroke-width="1.0"/>
<line x1="114.5" y1="762.2" x2="114.5" y2="765.4000000000001" stroke="#2b2b2b" stroke-width="1.0"/>
<rect x="51.5" y="716.75" width="9.25" height="45.45" fill="#C8203A"/>
<line x1="56.5" y1="708.75" x2="56.5" y2="716.75" stroke="#C8203A" stroke-width="1.0"/>
<line x1="54.025" y1="708.5" x2="58.225" y2="708.5" stroke="#C8203A" stroke-width="1.2"/>
<rect x="64.5" y="752.0" width="8.75" height="10.20" fill="#0D4E82"/>
<line x1="68.5" y1="748.25" x2="68.5" y2="752.0" stroke="#0D4E82" stroke-width="1.0"/>
<line x1="66.775" y1="748.5" x2="70.975" y2="748.5" stroke="#0D4E82" stroke-width="1.2"/>
<rect x="78.25" y="721.25" width="8.50" height="40.95" fill="#3AB44B"/>
<line x1="82.5" y1="712.5" x2="82.5" y2="721.25" stroke="#3AB44B" stroke-width="1.0"/>
<line x1="80.4" y1="712.5" x2="84.6" y2="712.5" stroke="#3AB44B" stroke-width="1.2"/>
<rect x="97.0" y="723.0" width="8.75" height="39.20" fill="#C8203A"/>
<line x1="101.5" y1="713.75" x2="101.5" y2="723.0" stroke="#C8203A" stroke-width="1.0"/>
<line x1="99.275" y1="713.5" x2="103.475" y2="713.5" stroke="#C8203A" stroke-width="1.2"/>
<rect x="110.0" y="746.75" width="8.75" height="15.45" fill="#0D4E82"/>
<line x1="114.5" y1="742.5" x2="114.5" y2="746.75" stroke="#0D4E82" stroke-width="1.0"/>
<line x1="112.275" y1="742.5" x2="116.475" y2="742.5" stroke="#0D4E82" stroke-width="1.2"/>
<rect x="123.25" y="735.0" width="8.50" height="27.20" fill="#3AB44B"/>
<line x1="127.5" y1="732.0" x2="127.5" y2="735.0" stroke="#3AB44B" stroke-width="1.0"/>
<line x1="125.4" y1="732.5" x2="129.6" y2="732.5" stroke="#3AB44B" stroke-width="1.2"/>
<text x="68.9" y="776.13" font-size="8.7" text-anchor="middle" fill="#222" font-weight="normal">BM</text>
<text x="114.4" y="776.13" font-size="8.7" text-anchor="middle" fill="#222" font-weight="normal">SP</text>
<text class="t" transform="translate(12.90,705.3) rotate(-90)" x="0" y="4.18" font-size="11.6" text-anchor="middle" fill="#222" textLength="43" lengthAdjust="spacingAndGlyphs">CD45.2+ (%)</text>
<rect x="49.7" y="646.9" width="13.1" height="7.45" fill="#C8203A"/>
<text x="66.25" y="653.72" font-size="8.6" text-anchor="start" fill="#222" font-weight="normal" textLength="50.7" lengthAdjust="spacingAndGlyphs">Control, n = 7</text>
<rect x="49.7" y="658.9" width="13.1" height="7.45" fill="#0D4E82"/>
<text x="66.25" y="665.72" font-size="8.6" text-anchor="start" fill="#222" font-weight="normal" textLength="60.2" lengthAdjust="spacingAndGlyphs">Gata2+/−, n = 6</text>
<rect x="49.7" y="671.15" width="13.1" height="7.45" fill="#3AB44B"/>
<text x="66.25" y="677.97" font-size="8.6" text-anchor="start" fill="#222" font-weight="normal" textLength="55.0" lengthAdjust="spacingAndGlyphs">+9.5+/−, n = 6</text>
<path d="M56.5,706.5 V699.5 H82.5 V706.5" stroke="#2b2b2b" stroke-width="1.1" fill="none" stroke-linejoin="round"/>
<line x1="67.5" y1="699.6" x2="67.5" y2="712.5" stroke="#2b2b2b" stroke-width="1.1"/>
<circle cx="60.00" cy="694.8" r="1.1" fill="#1a1a1a"/>
<circle cx="63.40" cy="694.8" r="1.1" fill="#1a1a1a"/>
<circle cx="72.90" cy="694.8" r="1.1" fill="#1a1a1a"/>
<circle cx="76.30" cy="694.8" r="1.1" fill="#1a1a1a"/>
<path d="M101.5,709.5 V704.5 H127.5 V714.5" stroke="#2b2b2b" stroke-width="1.1" fill="none" stroke-linejoin="round"/>
<line x1="113.5" y1="704.4" x2="113.5" y2="729.6" stroke="#2b2b2b" stroke-width="1.1"/>
<circle cx="105.05" cy="699.5" r="1.1" fill="#1a1a1a"/>
<circle cx="108.45" cy="699.5" r="1.1" fill="#1a1a1a"/>
<circle cx="119.50" cy="699.5" r="1.1" fill="#1a1a1a"/>
<text x="169.10" y="643.90" font-size="12.4" font-weight="bold" fill="#111" style="stroke:#111;stroke-width:0.35px">F</text>
<line x1="202.5" y1="648.25" x2="202.5" y2="762.5" stroke="#2b2b2b" stroke-width="1.2"/>
<line x1="198.2" y1="762.5" x2="202" y2="762.5" stroke="#2b2b2b" stroke-width="1.0"/>
<text x="197.55" y="765.69" font-size="9.7" text-anchor="end" fill="#222" font-weight="normal" class="n" letter-spacing="0.15">0</text>
<line x1="198.2" y1="724.5" x2="202" y2="724.5" stroke="#2b2b2b" stroke-width="1.0"/>
<text x="197.55" y="727.94" font-size="9.7" text-anchor="end" fill="#222" font-weight="normal" class="n" letter-spacing="0.15">50</text>
<line x1="198.2" y1="686.5" x2="202" y2="686.5" stroke="#2b2b2b" stroke-width="1.0"/>
<text x="197.55" y="690.19" font-size="9.7" text-anchor="end" fill="#222" font-weight="normal" class="n" letter-spacing="0.15">100</text>
<line x1="198.2" y1="648.5" x2="202" y2="648.5" stroke="#2b2b2b" stroke-width="1.0"/>
<text x="197.55" y="652.44" font-size="9.7" text-anchor="end" fill="#222" font-weight="normal" class="n" letter-spacing="0.15">150</text>
<line x1="199.5" y1="762.5" x2="237.4" y2="762.5" stroke="#2b2b2b" stroke-width="1.2"/>
<rect x="205.75" y="683.25" width="11.25" height="78.75" fill="#C8203A"/>
<line x1="211.5" y1="671.75" x2="211.5" y2="683.25" stroke="#C8203A" stroke-width="1.0"/>
<line x1="209.275" y1="671.5" x2="213.475" y2="671.5" stroke="#C8203A" stroke-width="1.2"/>
<rect x="223.0" y="724.25" width="11.25" height="37.75" fill="#0D4E82"/>
<line x1="228.5" y1="719.0" x2="228.5" y2="724.25" stroke="#0D4E82" stroke-width="1.0"/>
<line x1="226.525" y1="719.5" x2="230.725" y2="719.5" stroke="#0D4E82" stroke-width="1.2"/>
<circle cx="228.7" cy="706.55" r="1.1" fill="#1a1a1a"/>
<circle cx="228.7" cy="710.00" r="1.1" fill="#1a1a1a"/>
<circle cx="228.7" cy="713.45" r="1.1" fill="#1a1a1a"/>
<text x="206.3" y="652.63" font-size="8.7" text-anchor="start" fill="#222" font-weight="normal">n = 5</text>
<text class="t" transform="translate(170.1,705.5) rotate(-90)" x="0" y="3.96" font-size="11" text-anchor="middle" fill="#222" textLength="62.5" lengthAdjust="spacingAndGlyphs">Cell numbers (10<tspan font-size="6.5" dy="-3.5">6</tspan><tspan dy="3.5">)</tspan></text>
<text transform="translate(214.5,769.5) rotate(-45)" x="0" y="0" font-size="8.7" text-anchor="end" fill="#222">Control</text>
<text transform="translate(234.5,769.5) rotate(-45)" x="0" y="0" font-size="8.7" text-anchor="end" fill="#222">+9.5+/−</text>
<text x="256.80" y="17.90" font-size="12.4" font-weight="bold" fill="#111" style="stroke:#111;stroke-width:0.35px">C</text>
<line x1="304.5" y1="18.75" x2="304.5" y2="144.4" stroke="#2b2b2b" stroke-width="1.2"/>
<line x1="300.59999999999997" y1="143.5" x2="304.4" y2="143.5" stroke="#2b2b2b" stroke-width="1.0"/>
<text x="297.74999999999994" y="147.59" font-size="9.7" text-anchor="end" fill="#222" font-weight="normal" class="n" letter-spacing="0.15">0</text>
<line x1="300.59999999999997" y1="112.5" x2="304.4" y2="112.5" stroke="#2b2b2b" stroke-width="1.0"/>
<text x="297.74999999999994" y="116.35" font-size="9.7" text-anchor="end" fill="#222" font-weight="normal" class="n" letter-spacing="0.15">30</text>
<line x1="300.59999999999997" y1="81.5" x2="304.4" y2="81.5" stroke="#2b2b2b" stroke-width="1.0"/>
<text x="297.74999999999994" y="85.10" font-size="9.7" text-anchor="end" fill="#222" font-weight="normal" class="n" letter-spacing="0.15">60</text>
<line x1="300.59999999999997" y1="50.5" x2="304.4" y2="50.5" stroke="#2b2b2b" stroke-width="1.0"/>
<text x="297.74999999999994" y="53.86" font-size="9.7" text-anchor="end" fill="#222" font-weight="normal" class="n" letter-spacing="0.15">90</text>
<line x1="300.59999999999997" y1="18.5" x2="304.4" y2="18.5" stroke="#2b2b2b" stroke-width="1.0"/>
<text x="297.74999999999994" y="22.61" font-size="9.7" text-anchor="end" fill="#222" font-weight="normal" class="n" letter-spacing="0.15">120</text>
<line x1="301" y1="143.5" x2="476.3" y2="143.5" stroke="#2b2b2b" stroke-width="1.2"/>
<line x1="329.5" y1="143.9" x2="329.5" y2="147.1" stroke="#2b2b2b" stroke-width="1.0"/>
<line x1="384.5" y1="143.9" x2="384.5" y2="147.1" stroke="#2b2b2b" stroke-width="1.0"/>
<line x1="439.5" y1="143.9" x2="439.5" y2="147.1" stroke="#2b2b2b" stroke-width="1.0"/>
<rect x="312.3" y="88.6" width="9.70" height="55.30" fill="#C8203A"/>
<line x1="317.5" y1="70.5" x2="317.5" y2="88.6" stroke="#C8203A" stroke-width="1.0"/>
<line x1="315.04999999999995" y1="70.5" x2="319.25" y2="70.5" stroke="#C8203A" stroke-width="1.2"/>
<rect x="325.1" y="122.3" width="9.50" height="21.60" fill="#0D4E82"/>
<line x1="329.5" y1="110.5" x2="329.5" y2="122.3" stroke="#0D4E82" stroke-width="1.0"/>
<line x1="327.75" y1="110.5" x2="331.95000000000005" y2="110.5" stroke="#0D4E82" stroke-width="1.2"/>
<rect x="337.7" y="88.9" width="9.50" height="55.00" fill="#3AB44B"/>
<line x1="342.5" y1="76.2" x2="342.5" y2="88.9" stroke="#3AB44B" stroke-width="1.0"/>
<line x1="340.34999999999997" y1="76.5" x2="344.55" y2="76.5" stroke="#3AB44B" stroke-width="1.2"/>
<rect x="366.75" y="115.0" width="10.00" height="28.90" fill="#C8203A"/>
<line x1="371.5" y1="105.75" x2="371.5" y2="115.0" stroke="#C8203A" stroke-width="1.0"/>
<line x1="369.65" y1="105.5" x2="373.85" y2="105.5" stroke="#C8203A" stroke-width="1.2"/>
<rect x="379.5" y="134.5" width="9.75" height="9.40" fill="#0D4E82"/>
<line x1="384.5" y1="132.5" x2="384.5" y2="134.5" stroke="#0D4E82" stroke-width="1.0"/>
<line x1="382.275" y1="132.5" x2="386.475" y2="132.5" stroke="#0D4E82" stroke-width="1.2"/>
<rect x="392.0" y="130.25" width="10.00" height="13.65" fill="#3AB44B"/>
<line x1="397.5" y1="129.3" x2="397.5" y2="130.25" stroke="#3AB44B" stroke-width="1.0"/>
<line x1="394.9" y1="129.5" x2="399.1" y2="129.5" stroke="#3AB44B" stroke-width="1.2"/>
<rect x="422.5" y="121.25" width="10.00" height="22.65" fill="#C8203A"/>
<line x1="427.5" y1="115.5" x2="427.5" y2="121.25" stroke="#C8203A" stroke-width="1.0"/>
<line x1="425.4" y1="115.5" x2="429.6" y2="115.5" stroke="#C8203A" stroke-width="1.2"/>
<rect x="435.0" y="135.0" width="10.00" height="8.90" fill="#0D4E82"/>
<line x1="440.5" y1="132.0" x2="440.5" y2="135.0" stroke="#0D4E82" stroke-width="1.0"/>
<line x1="437.9" y1="132.5" x2="442.1" y2="132.5" stroke="#0D4E82" stroke-width="1.2"/>
<rect x="448.0" y="125.75" width="9.50" height="18.15" fill="#3AB44B"/>
<line x1="452.5" y1="121.5" x2="452.5" y2="125.75" stroke="#3AB44B" stroke-width="1.0"/>
<line x1="450.65" y1="121.5" x2="454.85" y2="121.5" stroke="#3AB44B" stroke-width="1.2"/>
<text x="329.5" y="158.63" font-size="8.7" text-anchor="middle" fill="#222" font-weight="normal">Myeloid</text>
<text x="384.25" y="158.63" font-size="8.7" text-anchor="middle" fill="#222" font-weight="normal">T</text>
<text x="439.5" y="158.63" font-size="8.7" text-anchor="middle" fill="#222" font-weight="normal">B</text>
<rect x="308.95" y="20.15" width="12.1" height="6.70" fill="#C8203A"/>
<text x="324.25" y="26.60" font-size="8.6" text-anchor="start" fill="#222" font-weight="normal" textLength="50.7" lengthAdjust="spacingAndGlyphs">Control, n = 7</text>
<rect x="308.95" y="28.9" width="12.1" height="6.70" fill="#0D4E82"/>
<text x="324.25" y="35.35" font-size="8.6" text-anchor="start" fill="#222" font-weight="normal" textLength="60.2" lengthAdjust="spacingAndGlyphs">Gata2+/−, n = 6</text>
<rect x="308.95" y="38.15" width="12.1" height="6.95" fill="#3AB44B"/>
<text x="324.25" y="44.72" font-size="8.6" text-anchor="start" fill="#222" font-weight="normal" textLength="55.0" lengthAdjust="spacingAndGlyphs">+9.5+/−, n = 6</text>
<text x="397" y="27.53" font-size="9.1" text-anchor="start" fill="#222" font-weight="normal">BM</text>
<text class="t" transform="translate(272.30,81.7) rotate(-90)" x="0" y="4.18" font-size="11.6" text-anchor="middle" fill="#222" textLength="43.6" lengthAdjust="spacingAndGlyphs">CD45.2+ (%)</text>
<path d="M316.5,67.5 V61.5 H329.5 V78.5" stroke="#2b2b2b" stroke-width="1.1" fill="none" stroke-linejoin="round"/>
<path d="M330.5,60.5 V53.5 H342.5 V67.5" stroke="#2b2b2b" stroke-width="1.1" fill="none" stroke-linejoin="round"/>
<circle cx="323.40" cy="58.5" r="1.1" fill="#1a1a1a"/>
<circle cx="335.80" cy="50.5" r="1.1" fill="#1a1a1a"/>
<path d="M371.5,103.5 V97.5 H390.5 V115.5" stroke="#2b2b2b" stroke-width="1.1" fill="none" stroke-linejoin="round"/>
<line x1="384.25" y1="115.5" x2="397" y2="115.5" stroke="#2b2b2b" stroke-width="1.1"/>
<circle cx="380.75" cy="93.75" r="1.1" fill="#1a1a1a"/>
<path d="M426.5,112.5 V109.5 H439.5 V127.5" stroke="#2b2b2b" stroke-width="1.1" fill="none" stroke-linejoin="round"/>
<path d="M439.5,106.5 V98.5 H452.5 V106.5" stroke="#2b2b2b" stroke-width="1.1" fill="none" stroke-linejoin="round"/>
<circle cx="432.50" cy="106.25" r="1.1" fill="#1a1a1a"/>
<circle cx="446.25" cy="94.5" r="1.1" fill="#1a1a1a"/>
<line x1="304.5" y1="165.25" x2="304.5" y2="292.2" stroke="#2b2b2b" stroke-width="1.2"/>
<line x1="300.59999999999997" y1="291.5" x2="304.4" y2="291.5" stroke="#2b2b2b" stroke-width="1.0"/>
<text x="297.74999999999994" y="295.39" font-size="9.7" text-anchor="end" fill="#222" font-weight="normal" class="n" letter-spacing="0.15">0</text>
<line x1="300.59999999999997" y1="249.5" x2="304.4" y2="249.5" stroke="#2b2b2b" stroke-width="1.0"/>
<text x="297.74999999999994" y="253.44" font-size="9.7" text-anchor="end" fill="#222" font-weight="normal" class="n" letter-spacing="0.15">30</text>
<line x1="300.59999999999997" y1="207.5" x2="304.4" y2="207.5" stroke="#2b2b2b" stroke-width="1.0"/>
<text x="297.74999999999994" y="211.49" font-size="9.7" text-anchor="end" fill="#222" font-weight="normal" class="n" letter-spacing="0.15">60</text>
<line x1="300.59999999999997" y1="165.5" x2="304.4" y2="165.5" stroke="#2b2b2b" stroke-width="1.0"/>
<text x="297.74999999999994" y="169.54" font-size="9.7" text-anchor="end" fill="#222" font-weight="normal" class="n" letter-spacing="0.15">90</text>
<line x1="301" y1="291.5" x2="497.7" y2="291.5" stroke="#2b2b2b" stroke-width="1.2"/>
<line x1="330.5" y1="291.7" x2="330.5" y2="294.9" stroke="#2b2b2b" stroke-width="1.0"/>
<line x1="398.5" y1="291.7" x2="398.5" y2="294.9" stroke="#2b2b2b" stroke-width="1.0"/>
<line x1="467.5" y1="291.7" x2="467.5" y2="294.9" stroke="#2b2b2b" stroke-width="1.0"/>
<rect x="312.0" y="243.25" width="9.75" height="48.45" fill="#C8203A"/>
<line x1="316.5" y1="228.25" x2="316.5" y2="243.25" stroke="#C8203A" stroke-width="1.0"/>
<line x1="314.775" y1="228.5" x2="318.975" y2="228.5" stroke="#C8203A" stroke-width="1.2"/>
<rect x="326.25" y="257.5" width="9.50" height="34.20" fill="#0D4E82"/>
<line x1="331.5" y1="236.75" x2="331.5" y2="257.5" stroke="#0D4E82" stroke-width="1.0"/>
<line x1="328.9" y1="236.5" x2="333.1" y2="236.5" stroke="#0D4E82" stroke-width="1.2"/>
<rect x="340.5" y="234.25" width="9.50" height="57.45" fill="#3AB44B"/>
<line x1="345.5" y1="223.75" x2="345.5" y2="234.25" stroke="#3AB44B" stroke-width="1.0"/>
<line x1="343.15" y1="223.5" x2="347.35" y2="223.5" stroke="#3AB44B" stroke-width="1.2"/>
<rect x="380.0" y="257.0" width="9.50" height="34.70" fill="#C8203A"/>
<line x1="384.5" y1="238.0" x2="384.5" y2="257.0" stroke="#C8203A" stroke-width="1.0"/>
<line x1="382.65" y1="238.5" x2="386.85" y2="238.5" stroke="#C8203A" stroke-width="1.2"/>
<rect x="394.25" y="282.5" width="9.50" height="9.20" fill="#0D4E82"/>
<line x1="399.5" y1="281.5" x2="399.5" y2="282.5" stroke="#0D4E82" stroke-width="1.0"/>
<line x1="396.9" y1="281.5" x2="401.1" y2="281.5" stroke="#0D4E82" stroke-width="1.2"/>
<rect x="408.75" y="279.5" width="9.50" height="12.20" fill="#3AB44B"/>
<line x1="413.5" y1="275.25" x2="413.5" y2="279.5" stroke="#3AB44B" stroke-width="1.0"/>
<line x1="411.4" y1="275.5" x2="415.6" y2="275.5" stroke="#3AB44B" stroke-width="1.2"/>
<rect x="448.2" y="237.2" width="9.80" height="54.50" fill="#C8203A"/>
<line x1="453.5" y1="228.5" x2="453.5" y2="237.2" stroke="#C8203A" stroke-width="1.0"/>
<line x1="451.0" y1="228.5" x2="455.20000000000005" y2="228.5" stroke="#C8203A" stroke-width="1.2"/>
<rect x="462.3" y="273.1" width="9.50" height="18.60" fill="#0D4E82"/>
<line x1="467.5" y1="268.8" x2="467.5" y2="273.1" stroke="#0D4E82" stroke-width="1.0"/>
<line x1="464.95" y1="268.5" x2="469.15000000000003" y2="268.5" stroke="#0D4E82" stroke-width="1.2"/>
<rect x="476.6" y="250.5" width="9.60" height="41.20" fill="#3AB44B"/>
<line x1="481.5" y1="239.7" x2="481.5" y2="250.5" stroke="#3AB44B" stroke-width="1.0"/>
<line x1="479.29999999999995" y1="239.5" x2="483.5" y2="239.5" stroke="#3AB44B" stroke-width="1.2"/>
<text x="330.8" y="305.63" font-size="8.7" text-anchor="middle" fill="#222" font-weight="normal">Myeloid</text>
<text x="398.9" y="306.13" font-size="8.7" text-anchor="middle" fill="#222" font-weight="normal">T</text>
<text x="467.2" y="306.13" font-size="8.7" text-anchor="middle" fill="#222" font-weight="normal">B</text>
<rect x="308.95" y="169.4" width="11.6" height="6.70" fill="#C8203A"/>
<text x="324.25" y="175.85" font-size="8.6" text-anchor="start" fill="#222" font-weight="normal" textLength="50.7" lengthAdjust="spacingAndGlyphs">Control, n = 7</text>
<rect x="308.95" y="178.15" width="11.6" height="6.70" fill="#0D4E82"/>
<text x="324.25" y="184.60" font-size="8.6" text-anchor="start" fill="#222" font-weight="normal" textLength="60.2" lengthAdjust="spacingAndGlyphs">Gata2+/−, n = 6</text>
<rect x="308.95" y="187.4" width="11.6" height="6.95" fill="#3AB44B"/>
<text x="324.25" y="193.97" font-size="8.6" text-anchor="start" fill="#222" font-weight="normal" textLength="55.0" lengthAdjust="spacingAndGlyphs">+9.5+/−, n = 6</text>
<text x="385.75" y="173.92" font-size="8.8" text-anchor="start" fill="#222" font-weight="normal">Spleen</text>
<text class="t" transform="translate(276.10,228.8) rotate(-90)" x="0" y="4.18" font-size="11.6" text-anchor="middle" fill="#222" textLength="43.5" lengthAdjust="spacingAndGlyphs">CD45.2+ (%)</text>
<path d="M385.5,231.5 V227.5 H403.5 V240.5" stroke="#2b2b2b" stroke-width="1.1" fill="none" stroke-linejoin="round"/>
<line x1="399.2" y1="240.5" x2="408.6" y2="240.5" stroke="#2b2b2b" stroke-width="1.1"/>
<circle cx="394.25" cy="223" r="1.1" fill="#1a1a1a"/>
<path d="M453.5,225.5 V218.5 H466.5 V222.5" stroke="#2b2b2b" stroke-width="1.1" fill="none" stroke-linejoin="round"/>
<path d="M467.5,231.5 V223.5 H480.5 V227.5" stroke="#2b2b2b" stroke-width="1.1" fill="none" stroke-linejoin="round"/>
<circle cx="457.70" cy="215.6" r="1.1" fill="#1a1a1a"/>
<circle cx="461.10" cy="215.6" r="1.1" fill="#1a1a1a"/>
<circle cx="473.20" cy="221.2" r="1.1" fill="#1a1a1a"/>
<text x="256.80" y="329.10" font-size="12.4" font-weight="bold" fill="#111" style="stroke:#111;stroke-width:0.35px">D</text>
<line x1="304.5" y1="325.25" x2="304.5" y2="449.8" stroke="#2b2b2b" stroke-width="1.2"/>
<line x1="300.59999999999997" y1="449.5" x2="304.4" y2="449.5" stroke="#2b2b2b" stroke-width="1.0"/>
<text x="297.74999999999994" y="452.99" font-size="9.7" text-anchor="end" fill="#222" font-weight="normal" class="n" letter-spacing="0.15">0</text>
<line x1="300.59999999999997" y1="418.5" x2="304.4" y2="418.5" stroke="#2b2b2b" stroke-width="1.0"/>
<text x="297.74999999999994" y="422.10" font-size="9.7" text-anchor="end" fill="#222" font-weight="normal" class="n" letter-spacing="0.15">30</text>
<line x1="300.59999999999997" y1="387.5" x2="304.4" y2="387.5" stroke="#2b2b2b" stroke-width="1.0"/>
<text x="297.74999999999994" y="391.22" font-size="9.7" text-anchor="end" fill="#222" font-weight="normal" class="n" letter-spacing="0.15">60</text>
<line x1="300.59999999999997" y1="356.5" x2="304.4" y2="356.5" stroke="#2b2b2b" stroke-width="1.0"/>
<text x="297.74999999999994" y="360.33" font-size="9.7" text-anchor="end" fill="#222" font-weight="normal" class="n" letter-spacing="0.15">90</text>
<line x1="300.59999999999997" y1="325.5" x2="304.4" y2="325.5" stroke="#2b2b2b" stroke-width="1.0"/>
<text x="297.74999999999994" y="329.44" font-size="9.7" text-anchor="end" fill="#222" font-weight="normal" class="n" letter-spacing="0.15">120</text>
<line x1="301" y1="449.5" x2="428.5" y2="449.5" stroke="#2b2b2b" stroke-width="1.2"/>
<line x1="329.5" y1="449.3" x2="329.5" y2="452.5" stroke="#2b2b2b" stroke-width="1.0"/>
<line x1="392.5" y1="449.3" x2="392.5" y2="452.5" stroke="#2b2b2b" stroke-width="1.0"/>
<rect x="311.1" y="380.0" width="9.30" height="69.30" fill="#C8203A"/>
<line x1="315.5" y1="371.3" x2="315.5" y2="380.0" stroke="#C8203A" stroke-width="1.0"/>
<line x1="313.65" y1="371.5" x2="317.85" y2="371.5" stroke="#C8203A" stroke-width="1.2"/>
<rect x="324.8" y="438.7" width="9.10" height="10.60" fill="#0D4E82"/>
<line x1="329.5" y1="433.0" x2="329.5" y2="438.7" stroke="#0D4E82" stroke-width="1.0"/>
<line x1="327.25" y1="433.5" x2="331.45000000000005" y2="433.5" stroke="#0D4E82" stroke-width="1.2"/>
<rect x="338.3" y="395.0" width="9.00" height="54.30" fill="#3AB44B"/>
<line x1="342.5" y1="390.2" x2="342.5" y2="395.0" stroke="#3AB44B" stroke-width="1.0"/>
<line x1="340.7" y1="390.5" x2="344.90000000000003" y2="390.5" stroke="#3AB44B" stroke-width="1.2"/>
<rect x="375.2" y="388.1" width="9.30" height="61.20" fill="#C8203A"/>
<line x1="379.5" y1="377.5" x2="379.5" y2="388.1" stroke="#C8203A" stroke-width="1.0"/>
<line x1="377.75" y1="377.5" x2="381.95000000000005" y2="377.5" stroke="#C8203A" stroke-width="1.2"/>
<rect x="388.9" y="437.9" width="8.90" height="11.40" fill="#0D4E82"/>
<line x1="393.5" y1="431.4" x2="393.5" y2="437.9" stroke="#0D4E82" stroke-width="1.0"/>
<line x1="391.25" y1="431.5" x2="395.45000000000005" y2="431.5" stroke="#0D4E82" stroke-width="1.2"/>
<rect x="402.4" y="415.4" width="9.30" height="33.90" fill="#3AB44B"/>
<line x1="407.5" y1="403.3" x2="407.5" y2="415.4" stroke="#3AB44B" stroke-width="1.0"/>
<line x1="404.94999999999993" y1="403.5" x2="409.15" y2="403.5" stroke="#3AB44B" stroke-width="1.2"/>
<text x="328.75" y="463.93" font-size="9.4" text-anchor="middle" fill="#222" font-weight="normal">HSC</text>
<text x="392.3" y="465.23" font-size="9.4" text-anchor="middle" fill="#222" font-weight="normal">MPP</text>
<rect x="308.95" y="323.9" width="11.85" height="7.20" fill="#C8203A"/>
<text x="324.25" y="330.60" font-size="8.6" text-anchor="start" fill="#222" font-weight="normal" textLength="50.7" lengthAdjust="spacingAndGlyphs">Control, n = 7</text>
<rect x="308.95" y="333.15" width="11.85" height="6.95" fill="#0D4E82"/>
<text x="324.25" y="339.72" font-size="8.6" text-anchor="start" fill="#222" font-weight="normal" textLength="60.2" lengthAdjust="spacingAndGlyphs">Gata2+/−, n = 6</text>
<rect x="308.95" y="342.4" width="11.85" height="6.95" fill="#3AB44B"/>
<text x="324.25" y="348.97" font-size="8.6" text-anchor="start" fill="#222" font-weight="normal" textLength="55.0" lengthAdjust="spacingAndGlyphs">+9.5+/−, n = 6</text>
<text class="t" transform="translate(273.00,386.9) rotate(-90)" x="0" y="4.18" font-size="11.6" text-anchor="middle" fill="#222" textLength="43.4" lengthAdjust="spacingAndGlyphs">CD45.2+ (%)</text>
<path d="M315.5,363.5 V356.5 H343.5 V361.5" stroke="#2b2b2b" stroke-width="1.1" fill="none" stroke-linejoin="round"/>
<circle cx="329.80" cy="353.8" r="1.1" fill="#1a1a1a"/>
<path d="M315.5,368.5 V365.5 H329.5 V369.5" stroke="#2b2b2b" stroke-width="1.1" fill="none" stroke-linejoin="round"/>
<circle cx="319.20" cy="361.4" r="1.1" fill="#1a1a1a"/>
<circle cx="322.60" cy="361.4" r="1.1" fill="#1a1a1a"/>
<circle cx="326.00" cy="361.4" r="1.1" fill="#1a1a1a"/>
<path d="M329.5,378.5 V371.5 H343.5 V373.5" stroke="#2b2b2b" stroke-width="1.1" fill="none" stroke-linejoin="round"/>
<circle cx="335.60" cy="367.3" r="1.1" fill="#1a1a1a"/>
<circle cx="339.00" cy="367.3" r="1.1" fill="#1a1a1a"/>
<path d="M377.5,360.5 V353.5 H404.5 V357.5" stroke="#2b2b2b" stroke-width="1.1" fill="none" stroke-linejoin="round"/>
<circle cx="391.20" cy="350.4" r="1.1" fill="#1a1a1a"/>
<path d="M377.5,371.5 V364.5 H390.5 V367.5" stroke="#2b2b2b" stroke-width="1.1" fill="none" stroke-linejoin="round"/>
<circle cx="381.70" cy="361.6" r="1.1" fill="#1a1a1a"/>
<circle cx="385.10" cy="361.6" r="1.1" fill="#1a1a1a"/>
<path d="M391.5,377.5 V369.5 H404.5 V373.5" stroke="#2b2b2b" stroke-width="1.1" fill="none" stroke-linejoin="round"/>
<circle cx="397.40" cy="366.8" r="1.1" fill="#1a1a1a"/>
<text x="256.80" y="487.30" font-size="12.4" font-weight="bold" fill="#111" style="stroke:#111;stroke-width:0.35px">E</text>
<line x1="304.5" y1="482.5" x2="304.5" y2="608.3" stroke="#2b2b2b" stroke-width="1.2"/>
<line x1="300.59999999999997" y1="607.5" x2="304.4" y2="607.5" stroke="#2b2b2b" stroke-width="1.0"/>
<text x="297.74999999999994" y="611.49" font-size="9.7" text-anchor="end" fill="#222" font-weight="normal" class="n" letter-spacing="0.15">0</text>
<line x1="300.59999999999997" y1="576.5" x2="304.4" y2="576.5" stroke="#2b2b2b" stroke-width="1.0"/>
<text x="297.74999999999994" y="580.37" font-size="9.7" text-anchor="end" fill="#222" font-weight="normal" class="n" letter-spacing="0.15">20</text>
<line x1="300.59999999999997" y1="545.5" x2="304.4" y2="545.5" stroke="#2b2b2b" stroke-width="1.0"/>
<text x="297.74999999999994" y="549.24" font-size="9.7" text-anchor="end" fill="#222" font-weight="normal" class="n" letter-spacing="0.15">40</text>
<line x1="300.59999999999997" y1="514.5" x2="304.4" y2="514.5" stroke="#2b2b2b" stroke-width="1.0"/>
<text x="297.74999999999994" y="518.11" font-size="9.7" text-anchor="end" fill="#222" font-weight="normal" class="n" letter-spacing="0.15">60</text>
<line x1="300.59999999999997" y1="483.5" x2="304.4" y2="483.5" stroke="#2b2b2b" stroke-width="1.0"/>
<text x="297.74999999999994" y="486.99" font-size="9.7" text-anchor="end" fill="#222" font-weight="normal" class="n" letter-spacing="0.15">80</text>
<line x1="301" y1="607.5" x2="491.5" y2="607.5" stroke="#2b2b2b" stroke-width="1.2"/>
<line x1="323.5" y1="607.8" x2="323.5" y2="611.0" stroke="#2b2b2b" stroke-width="1.0"/>
<line x1="360.5" y1="607.8" x2="360.5" y2="611.0" stroke="#2b2b2b" stroke-width="1.0"/>
<line x1="398.5" y1="607.8" x2="398.5" y2="611.0" stroke="#2b2b2b" stroke-width="1.0"/>
<line x1="435.5" y1="607.8" x2="435.5" y2="611.0" stroke="#2b2b2b" stroke-width="1.0"/>
<line x1="472.5" y1="607.8" x2="472.5" y2="611.0" stroke="#2b2b2b" stroke-width="1.0"/>
<rect x="311.75" y="521.25" width="9.00" height="86.55" fill="#C8203A"/>
<line x1="316.5" y1="509.5" x2="316.5" y2="521.25" stroke="#C8203A" stroke-width="1.0"/>
<line x1="314.15" y1="509.5" x2="318.35" y2="509.5" stroke="#C8203A" stroke-width="1.2"/>
<rect x="325.75" y="538.0" width="9.25" height="69.80" fill="#0D4E82"/>
<line x1="330.5" y1="522.5" x2="330.5" y2="538.0" stroke="#0D4E82" stroke-width="1.0"/>
<line x1="328.275" y1="522.5" x2="332.475" y2="522.5" stroke="#0D4E82" stroke-width="1.2"/>
<rect x="349.25" y="515.5" width="9.00" height="92.30" fill="#C8203A"/>
<line x1="353.5" y1="500.0" x2="353.5" y2="515.5" stroke="#C8203A" stroke-width="1.0"/>
<line x1="351.65" y1="500.5" x2="355.85" y2="500.5" stroke="#C8203A" stroke-width="1.2"/>
<rect x="363.25" y="533.75" width="9.25" height="74.05" fill="#0D4E82"/>
<line x1="367.5" y1="520.5" x2="367.5" y2="533.75" stroke="#0D4E82" stroke-width="1.0"/>
<line x1="365.775" y1="520.5" x2="369.975" y2="520.5" stroke="#0D4E82" stroke-width="1.2"/>
<rect x="386.25" y="539.5" width="9.50" height="68.30" fill="#C8203A"/>
<line x1="391.5" y1="520.5" x2="391.5" y2="539.5" stroke="#C8203A" stroke-width="1.0"/>
<line x1="388.9" y1="520.5" x2="393.1" y2="520.5" stroke="#C8203A" stroke-width="1.2"/>
<rect x="400.6" y="570.2" width="9.20" height="37.60" fill="#0D4E82"/>
<line x1="405.5" y1="562.2" x2="405.5" y2="570.2" stroke="#0D4E82" stroke-width="1.0"/>
<line x1="403.1" y1="562.5" x2="407.30000000000007" y2="562.5" stroke="#0D4E82" stroke-width="1.2"/>
<rect x="424.1" y="526.9" width="8.70" height="80.90" fill="#C8203A"/>
<line x1="428.5" y1="522.5" x2="428.5" y2="526.9" stroke="#C8203A" stroke-width="1.0"/>
<line x1="426.35" y1="522.5" x2="430.55000000000007" y2="522.5" stroke="#C8203A" stroke-width="1.2"/>
<rect x="438.1" y="548.0" width="8.80" height="59.80" fill="#0D4E82"/>
<line x1="442.5" y1="536.2" x2="442.5" y2="548.0" stroke="#0D4E82" stroke-width="1.0"/>
<line x1="440.4" y1="536.5" x2="444.6" y2="536.5" stroke="#0D4E82" stroke-width="1.2"/>
<rect x="461.3" y="515.1" width="9.30" height="92.70" fill="#C8203A"/>
<line x1="465.5" y1="508.1" x2="465.5" y2="515.1" stroke="#C8203A" stroke-width="1.0"/>
<line x1="463.85" y1="508.5" x2="468.05000000000007" y2="508.5" stroke="#C8203A" stroke-width="1.2"/>
<rect x="475.4" y="541.0" width="9.30" height="66.80" fill="#0D4E82"/>
<line x1="480.5" y1="535.3" x2="480.5" y2="541.0" stroke="#0D4E82" stroke-width="1.0"/>
<line x1="477.94999999999993" y1="535.5" x2="482.15" y2="535.5" stroke="#0D4E82" stroke-width="1.2"/>
<circle cx="405.20" cy="556.9" r="1.1" fill="#1a1a1a"/>
<circle cx="442.4" cy="527.80" r="1.1" fill="#1a1a1a"/>
<circle cx="442.4" cy="531.20" r="1.1" fill="#1a1a1a"/>
<circle cx="479.9" cy="524.10" r="1.1" fill="#1a1a1a"/>
<circle cx="479.9" cy="527.50" r="1.1" fill="#1a1a1a"/>
<circle cx="479.9" cy="530.90" r="1.1" fill="#1a1a1a"/>
<text x="323.25" y="622.16" font-size="9.2" text-anchor="middle" fill="#222" font-weight="normal">MPP1</text>
<text x="360.25" y="622.16" font-size="9.2" text-anchor="middle" fill="#222" font-weight="normal">MPP2</text>
<text x="398.0" y="622.16" font-size="9.2" text-anchor="middle" fill="#222" font-weight="normal">MPP3</text>
<text x="435.4" y="622.16" font-size="9.2" text-anchor="middle" fill="#222" font-weight="normal">CLP</text>
<text x="473.0" y="622.16" font-size="9.2" text-anchor="middle" fill="#222" font-weight="normal">CCR9+CLP</text>
<rect x="310.95" y="478.15" width="11.85" height="6.95" fill="#C8203A"/>
<text x="325.75" y="484.72" font-size="8.6" text-anchor="start" fill="#222" font-weight="normal" textLength="51.0" lengthAdjust="spacingAndGlyphs">Control, n = 5</text>
<rect x="310.95" y="490.65" width="11.85" height="6.95" fill="#0D4E82"/>
<text x="325.75" y="497.22" font-size="8.6" text-anchor="start" fill="#222" font-weight="normal" textLength="55.0" lengthAdjust="spacingAndGlyphs">+9.5+/−, n = 5</text>
<text x="390.75" y="486.53" font-size="9.1" text-anchor="start" fill="#222" font-weight="normal">BM</text>
<text class="t" transform="translate(276.20,545.8) rotate(-90)" x="0" y="4.18" font-size="11.6" text-anchor="middle" fill="#222" textLength="44.2" lengthAdjust="spacingAndGlyphs">CD45.2+ (%)</text>
<text x="256.80" y="645.30" font-size="12.4" font-weight="bold" fill="#111" style="stroke:#111;stroke-width:0.35px">G</text>
<line x1="304.5" y1="650.75" x2="304.5" y2="762.5" stroke="#2b2b2b" stroke-width="1.2"/>
<line x1="300.2" y1="762.5" x2="304.0" y2="762.5" stroke="#2b2b2b" stroke-width="1.0"/>
<text x="297.34999999999997" y="765.69" font-size="9.7" text-anchor="end" fill="#222" font-weight="normal" class="n" letter-spacing="0.15">0</text>
<line x1="300.2" y1="739.5" x2="304.0" y2="739.5" stroke="#2b2b2b" stroke-width="1.0"/>
<text x="297.34999999999997" y="743.54" font-size="9.7" text-anchor="end" fill="#222" font-weight="normal" class="n" letter-spacing="0.15">10</text>
<line x1="300.2" y1="717.5" x2="304.0" y2="717.5" stroke="#2b2b2b" stroke-width="1.0"/>
<text x="297.34999999999997" y="721.39" font-size="9.7" text-anchor="end" fill="#222" font-weight="normal" class="n" letter-spacing="0.15">20</text>
<line x1="300.2" y1="695.5" x2="304.0" y2="695.5" stroke="#2b2b2b" stroke-width="1.0"/>
<text x="297.34999999999997" y="699.24" font-size="9.7" text-anchor="end" fill="#222" font-weight="normal" class="n" letter-spacing="0.15">30</text>
<line x1="300.2" y1="673.5" x2="304.0" y2="673.5" stroke="#2b2b2b" stroke-width="1.0"/>
<text x="297.34999999999997" y="677.08" font-size="9.7" text-anchor="end" fill="#222" font-weight="normal" class="n" letter-spacing="0.15">40</text>
<line x1="300.2" y1="651.5" x2="304.0" y2="651.5" stroke="#2b2b2b" stroke-width="1.0"/>
<text x="297.34999999999997" y="654.93" font-size="9.7" text-anchor="end" fill="#222" font-weight="normal" class="n" letter-spacing="0.15">50</text>
<line x1="304.0" y1="762.5" x2="511.4" y2="762.5" stroke="#2b2b2b" stroke-width="1.2"/>
<line x1="319.5" y1="762.0" x2="319.5" y2="765.8" stroke="#2b2b2b" stroke-width="1.0"/>
<line x1="348.5" y1="762.0" x2="348.5" y2="765.8" stroke="#2b2b2b" stroke-width="1.0"/>
<line x1="378.5" y1="762.0" x2="378.5" y2="765.8" stroke="#2b2b2b" stroke-width="1.0"/>
<line x1="408.5" y1="762.0" x2="408.5" y2="765.8" stroke="#2b2b2b" stroke-width="1.0"/>
<line x1="437.5" y1="762.0" x2="437.5" y2="765.8" stroke="#2b2b2b" stroke-width="1.0"/>
<line x1="467.5" y1="762.0" x2="467.5" y2="765.8" stroke="#2b2b2b" stroke-width="1.0"/>
<line x1="496.5" y1="762.0" x2="496.5" y2="765.8" stroke="#2b2b2b" stroke-width="1.0"/>
<rect x="310.1" y="696.9" width="7.40" height="65.10" fill="#C8203A"/>
<line x1="313.5" y1="690.6" x2="313.5" y2="696.9" stroke="#C8203A" stroke-width="1.0"/>
<line x1="311.7" y1="690.5" x2="315.90000000000003" y2="690.5" stroke="#C8203A" stroke-width="1.2"/>
<rect x="321.3" y="728.0" width="7.40" height="34.00" fill="#0D4E82"/>
<line x1="325.5" y1="717.4" x2="325.5" y2="728.0" stroke="#0D4E82" stroke-width="1.0"/>
<line x1="322.9" y1="717.5" x2="327.1" y2="717.5" stroke="#0D4E82" stroke-width="1.2"/>
<circle cx="325.0" cy="705.70" r="0.95" fill="#1a1a1a"/>
<circle cx="325.0" cy="709.00" r="0.95" fill="#1a1a1a"/>
<circle cx="325.0" cy="712.30" r="0.95" fill="#1a1a1a"/>
<rect x="340.1" y="728.0" width="7.40" height="34.00" fill="#C8203A"/>
<line x1="343.5" y1="712.4" x2="343.5" y2="728.0" stroke="#C8203A" stroke-width="1.0"/>
<line x1="341.7" y1="712.5" x2="345.90000000000003" y2="712.5" stroke="#C8203A" stroke-width="1.2"/>
<rect x="350.9" y="757.2" width="7.40" height="4.80" fill="#0D4E82"/>
<line x1="354.5" y1="753.6" x2="354.5" y2="757.2" stroke="#0D4E82" stroke-width="1.0"/>
<line x1="352.49999999999994" y1="753.5" x2="356.7" y2="753.5" stroke="#0D4E82" stroke-width="1.2"/>
<circle cx="354.59999999999997" cy="741.70" r="0.95" fill="#1a1a1a"/>
<circle cx="354.59999999999997" cy="745.00" r="0.95" fill="#1a1a1a"/>
<circle cx="354.59999999999997" cy="748.30" r="0.95" fill="#1a1a1a"/>
<rect x="369.8" y="726.1" width="7.40" height="35.90" fill="#C8203A"/>
<line x1="373.5" y1="708.1" x2="373.5" y2="726.1" stroke="#C8203A" stroke-width="1.0"/>
<line x1="371.4" y1="708.5" x2="375.6" y2="708.5" stroke="#C8203A" stroke-width="1.2"/>
<rect x="380.5" y="755.7" width="7.40" height="6.30" fill="#0D4E82"/>
<line x1="384.5" y1="747.3" x2="384.5" y2="755.7" stroke="#0D4E82" stroke-width="1.0"/>
<line x1="382.09999999999997" y1="747.5" x2="386.3" y2="747.5" stroke="#0D4E82" stroke-width="1.2"/>
<circle cx="384.2" cy="736.70" r="0.95" fill="#1a1a1a"/>
<circle cx="384.2" cy="740.00" r="0.95" fill="#1a1a1a"/>
<circle cx="384.2" cy="743.30" r="0.95" fill="#1a1a1a"/>
<rect x="398.8" y="682.0" width="7.40" height="80.00" fill="#C8203A"/>
<line x1="402.5" y1="663.7" x2="402.5" y2="682.0" stroke="#C8203A" stroke-width="1.0"/>
<line x1="400.4" y1="663.5" x2="404.6" y2="663.5" stroke="#C8203A" stroke-width="1.2"/>
<rect x="409.6" y="742.0" width="7.40" height="20.00" fill="#0D4E82"/>
<line x1="413.5" y1="729.1" x2="413.5" y2="742.0" stroke="#0D4E82" stroke-width="1.0"/>
<line x1="411.2" y1="729.5" x2="415.40000000000003" y2="729.5" stroke="#0D4E82" stroke-width="1.2"/>
<circle cx="413.3" cy="720.55" r="0.95" fill="#1a1a1a"/>
<circle cx="413.3" cy="723.85" r="0.95" fill="#1a1a1a"/>
<rect x="428.5" y="679.8" width="7.40" height="82.20" fill="#C8203A"/>
<line x1="432.5" y1="667.7" x2="432.5" y2="679.8" stroke="#C8203A" stroke-width="1.0"/>
<line x1="430.09999999999997" y1="667.5" x2="434.3" y2="667.5" stroke="#C8203A" stroke-width="1.2"/>
<rect x="439.2" y="747.7" width="7.40" height="14.30" fill="#0D4E82"/>
<line x1="442.5" y1="737.7" x2="442.5" y2="747.7" stroke="#0D4E82" stroke-width="1.0"/>
<line x1="440.79999999999995" y1="737.5" x2="445.0" y2="737.5" stroke="#0D4E82" stroke-width="1.2"/>
<circle cx="442.9" cy="728.65" r="0.95" fill="#1a1a1a"/>
<circle cx="442.9" cy="731.95" r="0.95" fill="#1a1a1a"/>
<rect x="458.1" y="681.2" width="7.40" height="80.80" fill="#C8203A"/>
<line x1="461.5" y1="665.0" x2="461.5" y2="681.2" stroke="#C8203A" stroke-width="1.0"/>
<line x1="459.7" y1="665.5" x2="463.90000000000003" y2="665.5" stroke="#C8203A" stroke-width="1.2"/>
<rect x="468.9" y="741.2" width="7.40" height="20.80" fill="#0D4E82"/>
<line x1="472.5" y1="726.4" x2="472.5" y2="741.2" stroke="#0D4E82" stroke-width="1.0"/>
<line x1="470.49999999999994" y1="726.5" x2="474.7" y2="726.5" stroke="#0D4E82" stroke-width="1.2"/>
<circle cx="472.59999999999997" cy="715.30" r="0.95" fill="#1a1a1a"/>
<circle cx="472.59999999999997" cy="718.60" r="0.95" fill="#1a1a1a"/>
<circle cx="472.59999999999997" cy="721.90" r="0.95" fill="#1a1a1a"/>
<rect x="487.7" y="676.3" width="7.40" height="85.70" fill="#C8203A"/>
<line x1="491.5" y1="660.2" x2="491.5" y2="676.3" stroke="#C8203A" stroke-width="1.0"/>
<line x1="489.29999999999995" y1="660.5" x2="493.5" y2="660.5" stroke="#C8203A" stroke-width="1.2"/>
<rect x="498.5" y="738.2" width="7.40" height="23.80" fill="#0D4E82"/>
<line x1="502.5" y1="719.4" x2="502.5" y2="738.2" stroke="#0D4E82" stroke-width="1.0"/>
<line x1="500.09999999999997" y1="719.5" x2="504.3" y2="719.5" stroke="#0D4E82" stroke-width="1.2"/>
<circle cx="502.2" cy="708.90" r="0.95" fill="#1a1a1a"/>
<circle cx="502.2" cy="712.20" r="0.95" fill="#1a1a1a"/>
<circle cx="502.2" cy="715.50" r="0.95" fill="#1a1a1a"/>
<text transform="translate(324.3,773.7) rotate(-45)" x="0" y="0" font-size="8.7" text-anchor="end" fill="#222">DN1</text>
<text transform="translate(353.90000000000003,773.7) rotate(-45)" x="0" y="0" font-size="8.7" text-anchor="end" fill="#222">DN2</text>
<text transform="translate(383.5,773.7) rotate(-45)" x="0" y="0" font-size="8.7" text-anchor="end" fill="#222">DN3</text>
<text transform="translate(413.1,773.7) rotate(-45)" x="0" y="0" font-size="8.7" text-anchor="end" fill="#222">DN4</text>
<text transform="translate(442.5,773.7) rotate(-45)" x="0" y="0" font-size="8.7" text-anchor="end" fill="#222">DP</text>
<text transform="translate(472.1,773.7) rotate(-45)" x="0" y="0" font-size="8.7" text-anchor="end" fill="#222">CD4+</text>
<text transform="translate(501.70000000000005,773.7) rotate(-45)" x="0" y="0" font-size="8.7" text-anchor="end" fill="#222">CD8+</text>
<text x="325" y="658.06" font-size="8.5" text-anchor="start" fill="#222" font-weight="normal">thymus</text>
<rect x="320.45" y="665.65" width="11.85" height="6.95" fill="#C8203A"/>
<text x="335.75" y="672.22" font-size="8.6" text-anchor="start" fill="#222" font-weight="normal" textLength="51.0" lengthAdjust="spacingAndGlyphs">Control, n = 5</text>
<rect x="320.45" y="678.9" width="11.85" height="7.20" fill="#0D4E82"/>
<text x="335.75" y="685.60" font-size="8.6" text-anchor="start" fill="#222" font-weight="normal" textLength="55.0" lengthAdjust="spacingAndGlyphs">+9.5+/−, n = 5</text>
<text class="t" transform="translate(276.40,706.4) rotate(-90)" x="0" y="4.18" font-size="11.6" text-anchor="middle" fill="#222" textLength="43.2" lengthAdjust="spacingAndGlyphs">CD45.2+ (%)</text>
</svg>
</body></html>
